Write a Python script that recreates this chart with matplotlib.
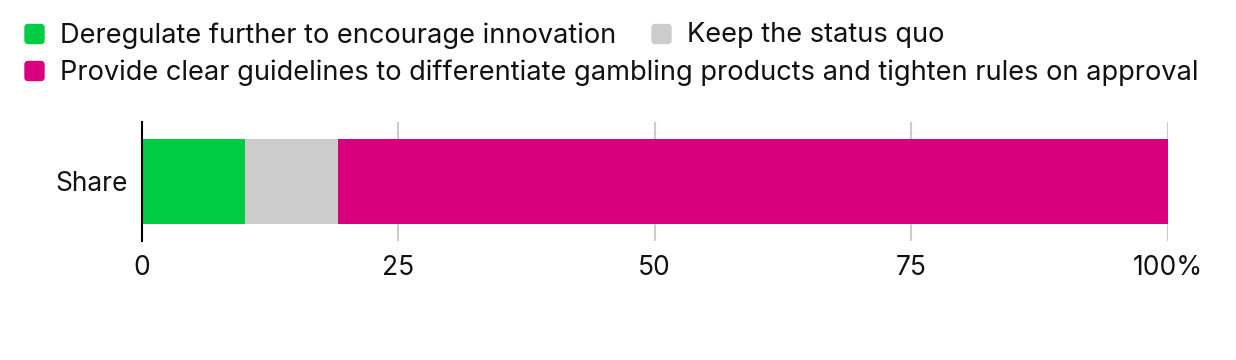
import matplotlib.pyplot as plt
from matplotlib.patches import FancyBboxPatch
from matplotlib.transforms import IdentityTransform

# Datos
categoria = ["Share"]
series = ["Deregulate further to encourage innovation",
          "Keep the status quo",
          "Provide clear guidelines to differentiate gambling products and tighten rules on approval"]
valores = [10.1, 9.1, 80.8]
colores = ["#00cc44", "#cccccc", "#d9007e"]
ticks = [0, 25, 50, 75, 100]
tick_labels = ["0", "25", "50", "75", "100%"]

plt.rcParams['font.family'] = ['Inter', 'DejaVu Sans']
fs = 19

fig = plt.figure(figsize=(12.36, 3.6), dpi=100)
W, H = 1236, 360
ax = fig.add_axes([141.5 / W, 1 - 241 / H, (1167.5 - 141.5) / W, 119 / H])

izq = 0
for v, c in zip(valores, colores):
    ax.barh(categoria, [v], left=izq, height=0.706, color=c, zorder=2)
    izq += v

ax.set_xlim(0, 100)
ax.set_ylim(-0.5, 0.5)
ax.set_xticks(ticks)
ax.set_xticklabels(tick_labels, fontsize=fs, color="#111111")
ax.tick_params(axis='x', length=0, pad=10)
ax.tick_params(axis='y', length=0, pad=9.5, labelsize=fs, labelcolor="#111111")
for t in ticks[1:]:
    ax.axvline(t, color="#cccccc", lw=1.5, zorder=1)
for s in ['top', 'right', 'bottom']:
    ax.spines[s].set_visible(False)
ax.spines['left'].set_color("black")
ax.spines['left'].set_linewidth(1.5)
ax.spines['left'].set_zorder(3)

# Leyenda manual (coordenadas en píxeles)
pos = [(25, 34), (652, 34), (25, 71)]
for (x, y), nombre, c in zip(pos, series, colores):
    fig.patches.append(FancyBboxPatch((x, H - y - 9.5), 19, 19,
                                      boxstyle="round,pad=0,rounding_size=3",
                                      transform=IdentityTransform(), color=c, figure=fig))
    fig.text((x + 35) / W, 1 - (y + 1.5) / H, nombre, fontsize=19.6, va='center', ha='left', color="#111111")

fig.savefig("out.png", dpi=100)
